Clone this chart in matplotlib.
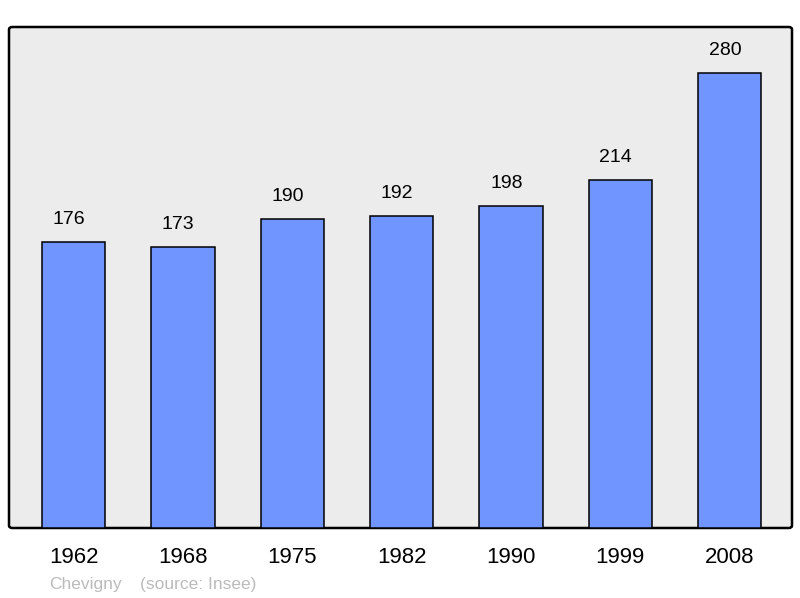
import matplotlib
matplotlib.use("Agg")
from matplotlib import pyplot as plt
from matplotlib.patches import FancyBboxPatch

plt.rcParams['font.family'] = ['Liberation Sans', 'DejaVu Sans']

years = ['1962', '1968', '1975', '1982', '1990', '1999', '2008']
population = [176, 173, 190, 192, 198, 214, 280]
town = 'Chevigny'
source = '(source: Insee)'

fig = plt.figure(figsize=(8, 5.98), dpi=100)
ax = fig.add_axes([9 / 800, 70 / 598, 783 / 800, 501 / 598])
ax.set_facecolor('none')
ax.set_zorder(2)

# rounded frame behind the bars
frame = FancyBboxPatch((9 / 800, 70 / 598), 783 / 800, 501 / 598,
                       boxstyle='round,pad=0,rounding_size=0.004',
                       transform=fig.transFigure, facecolor='#ececec',
                       edgecolor='black', linewidth=1.8, zorder=1)
fig.patches.append(frame)

pos = list(range(len(years)))
ax.bar(pos, population, width=0.58, color='#7095ff', edgecolor='black',
       linewidth=1.1, zorder=2)
for x, v in zip(pos, population):
    ax.annotate(str(v), (x, v), xytext=(-3.3, 10), textcoords='offset points',
                ha='center', va='bottom', fontsize=14, color='black')

ax.set_xlim(-0.59, 6.57)
ax.set_ylim(0, 308.3)
ax.set_xticks(pos)
ax.set_xticklabels(years, fontsize=16)
ax.tick_params(axis='x', length=0, pad=14)
ax.set_yticks([])
for s in ax.spines.values():
    s.set_visible(False)

fig.text(49 / 800, 1 - 584 / 598, town, color='#bbbbbb', fontsize=12.5, va='center')
fig.text(140 / 800, 1 - 584 / 598, source, color='#bbbbbb', fontsize=12.5, va='center')

fig.savefig('out.png', dpi=100)
